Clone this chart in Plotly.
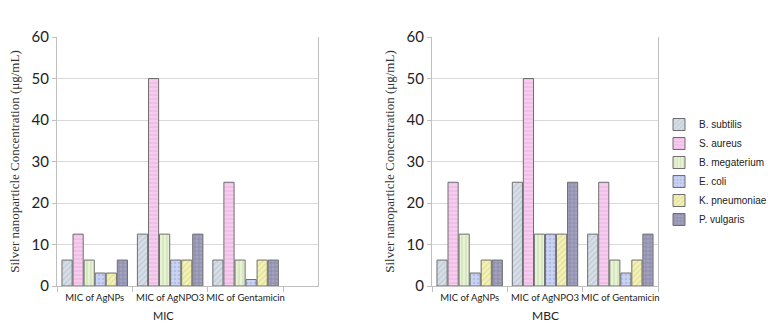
import plotly.graph_objects as go

categories = ["MIC of AgNPs", "MIC of AgNPO3", "MIC of Gentamicin"]
species = ["B. subtilis", "S. aureus", "B. megaterium", "E. coli", "K. pneumoniae", "P. vulgaris"]

# values per species, per category
mic_values = [
    [6.25, 12.5, 6.25],    # B. subtilis
    [12.5, 50, 25],        # S. aureus
    [6.25, 12.5, 6.25],    # B. megaterium
    [3.125, 6.25, 1.56],   # E. coli
    [3.125, 6.25, 6.25],   # K. pneumoniae
    [6.25, 12.5, 6.25],    # P. vulgaris
]
mbc_values = [
    [6.25, 25, 12.5],      # B. subtilis
    [25, 50, 25],          # S. aureus
    [12.5, 12.5, 6.25],    # B. megaterium
    [3.125, 12.5, 3.125],  # E. coli
    [6.25, 12.5, 6.25],    # K. pneumoniae
    [6.25, 25, 12.5],      # P. vulgaris
]
y_ticks = [0, 10, 20, 30, 40, 50, 60]

styles = [
    dict(bg="#d7dfe8", fg="#a9b6c4", shape="/"),
    dict(bg="#f7cdef", fg="#e3a6d6", shape="-"),
    dict(bg="#e8f3d6", fg="#b9d29a", shape="|"),
    dict(bg="#cbd3f3", fg="#98a5dc", shape="."),
    dict(bg="#f4f2b8", fg="#cfcb7a", shape="/"),
    dict(bg="#a3a3bf", fg="#6c6c8e", shape="+"),
]

fig = go.Figure()
for panel, (vals, xa, ya) in enumerate([(mic_values, "x", "y"), (mbc_values, "x2", "y2")]):
    for i, sp in enumerate(species):
        st = styles[i]
        fig.add_trace(go.Bar(
            x=categories, y=vals[i], name=sp, xaxis=xa, yaxis=ya,
            showlegend=(panel == 1), legendgroup=sp,
            marker=dict(color=st["bg"], line=dict(color="#6e6e6e", width=1),
                        pattern=dict(shape=st["shape"], fgcolor=st["fg"], bgcolor=st["bg"],
                                     size=4, solidity=0.35)),
        ))

W, H = 768, 333
top, bottom = 37, 286
ydom = [1 - bottom / H, 1 - top / H]

tickfont = dict(family="Lato", size=15, color="#222222")
catfont = dict(family="Lato", size=9.5, color="#222222")
ytitle = dict(text="Silver nanoparticle Concentration (μg/mL)",
              font=dict(family="Liberation Serif", size=13, color="#333333"), standoff=9)

common_y = dict(range=[0, 60], tickvals=y_ticks, showgrid=True, gridcolor="#d9d9d9", gridwidth=1,
                showline=True, linecolor="#bfbfbf", mirror=True, ticks="outside", ticklen=4,
                tickcolor="#bfbfbf", tickfont=tickfont, zeroline=False, title=ytitle,
                automargin=False)
common_x = dict(type="category", showgrid=False, showline=True, linecolor="#bfbfbf",
                ticks="outside", ticklen=5, tickcolor="#bfbfbf", tickson="boundaries",
                tickfont=catfont, tickangle=0, ticklabelstandoff=3, zeroline=False,
                mirror=False, automargin=False)

fig.update_layout(
    width=W, height=H, margin=dict(l=0, r=0, t=0, b=0, autoexpand=False),
    paper_bgcolor="white", plot_bgcolor="white",
    barmode="group", bargap=0.12, bargroupgap=0.08,
    xaxis=dict(domain=[57 / W, 318 / W], anchor="y", range=[-0.5, 2.96], **common_x),
    yaxis=dict(domain=ydom, anchor="x", **common_y),
    xaxis2=dict(domain=[432 / W, 658 / W], anchor="y2", range=[-0.5, 2.5], **common_x),
    yaxis2=dict(domain=ydom, anchor="x2", **common_y),
    legend=dict(x=659 / W, y=1 - 110 / H, xanchor="left", yanchor="top",
                font=dict(family="Liberation Sans", size=10, color="#222222"),
                tracegroupgap=0, itemwidth=30, bgcolor="rgba(0,0,0,0)"),
    annotations=[
        dict(text="MIC", x=163 / W, y=1 - 315 / H, xref="paper", yref="paper", showarrow=False,
             xanchor="center", yanchor="middle",
             font=dict(family="Lato", size=11, color="#222222")),
        dict(text="MBC", x=545 / W, y=1 - 315 / H, xref="paper", yref="paper", showarrow=False,
             xanchor="center", yanchor="middle",
             font=dict(family="Lato", size=12, color="#222222")),
    ],
)

fig.write_html("out.html", config={"displayModeBar": False},
               post_script="document.body.style.margin='0';")
